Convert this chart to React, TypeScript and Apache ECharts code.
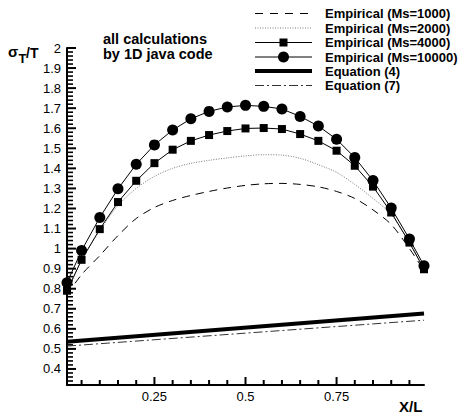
import React, { useEffect, useRef } from "react";
import * as echarts from "echarts";

// ---- data ----
const xPositions = [0.01, 0.05, 0.1, 0.15, 0.2, 0.25, 0.3, 0.35, 0.4, 0.45, 0.5, 0.55, 0.6, 0.65, 0.7, 0.75, 0.8, 0.85, 0.9, 0.95, 0.99];
const empMs1000 = [0.77, 0.87, 0.965, 1.065, 1.15, 1.205, 1.24, 1.265, 1.285, 1.302, 1.315, 1.323, 1.325, 1.32, 1.308, 1.285, 1.25, 1.193, 1.12, 1.0, 0.89];
const empMs2000 = [0.78, 0.94, 1.09, 1.215, 1.3, 1.36, 1.4, 1.425, 1.44, 1.452, 1.462, 1.468, 1.466, 1.45, 1.418, 1.38, 1.32, 1.25, 1.17, 1.03, 0.9];
const empMs4000 = [0.79, 0.944, 1.097, 1.232, 1.338, 1.426, 1.493, 1.537, 1.566, 1.586, 1.599, 1.601, 1.596, 1.571, 1.537, 1.488, 1.413, 1.309, 1.18, 1.03, 0.897];
const empMs10000 = [0.83, 0.99, 1.155, 1.298, 1.42, 1.517, 1.591, 1.647, 1.684, 1.706, 1.714, 1.709, 1.696, 1.659, 1.611, 1.545, 1.454, 1.339, 1.202, 1.048, 0.915];
const eqX = [0.01, 0.99];
const eq4 = [0.536, 0.677];
const eq7 = [0.514, 0.643];

const seriesNames = [
  "Empirical (Ms=1000)",
  "Empirical (Ms=2000)",
  "Empirical (Ms=4000)",
  "Empirical (Ms=10000)",
  "Equation (4)",
  "Equation (7)",
];

const xMajorTicks = [0.25, 0.5, 0.75];
const yMajorTicks = [0.4, 0.5, 0.6, 0.7, 0.8, 0.9, 1, 1.1, 1.2, 1.3, 1.4, 1.5, 1.6, 1.7, 1.8, 1.9, 2];
const xMin = 0.01;
const xMax = 0.99;
const yMin = 0.32;
const yMax = 2;

const FONT = '"Liberation Sans", Arial, Helvetica, sans-serif';
const TICK_COLOR = "#000";

function pairs(xs: number[], ys: number[]) {
  return xs.map((x, i) => [x, ys[i]]);
}

export default function App() {
  const ref = useRef<HTMLDivElement>(null);

  useEffect(() => {
    if (!ref.current) return;
    const chart = echarts.init(ref.current, undefined, { renderer: "svg" });

    const xTickVals: number[] = [];
    const xTickLen: number[] = [];
    for (let i = 1; i < 20; i++) {
      const v = Math.round(i * 5) / 100;
      xTickVals.push(v);
      xTickLen.push(xMajorTicks.some((m) => Math.abs(m - v) < 1e-9) ? 8 : 5);
    }
    const yTickVals: number[] = [];
    const yTickLen: number[] = [];
    for (let i = 17; i <= 100; i++) {
      const v = Math.round(i * 2) / 100;
      yTickVals.push(v);
      yTickLen.push(yMajorTicks.some((m) => Math.abs(m - v) < 1e-9) ? 9 : 6);
    }

    const black = "#000";
    const axisLabel = { color: black, fontSize: 13, fontFamily: FONT };

    const legendY = [13.5, 28, 42.5, 57, 71, 85.5];
    const lx1 = 255, lx2 = 312, lmid = 283.5, tx = 325;
    const legendStyles: any[] = [
      { stroke: black, lineWidth: 1, lineDash: [8, 7] },
      { stroke: "#777", lineWidth: 1, lineDash: [1, 1.5] },
      { stroke: black, lineWidth: 1 },
      { stroke: black, lineWidth: 1 },
      { stroke: black, lineWidth: 4 },
      { stroke: "#333", lineWidth: 1, lineDash: [9, 3, 2, 3] },
    ];
    const txt = (text: string, x: number, y: number, font: string) => ({
      type: "text", x, y, z: 11,
      style: { text, fill: black, font, textAlign: "left", textVerticalAlign: "middle", align: "left", verticalAlign: "middle" },
    });
    const graphics: any[] = [];
    seriesNames.forEach((name, i) => {
      const y = legendY[i];
      graphics.push({ type: "line", shape: { x1: lx1, y1: y, x2: lx2, y2: y }, style: legendStyles[i], z: 10 });
      if (i === 2) graphics.push({ type: "rect", shape: { x: lmid - 4, y: y - 4, width: 8, height: 8 }, style: { fill: black }, z: 11 });
      if (i === 3) graphics.push({ type: "circle", shape: { cx: lmid, cy: y, r: 5.5 }, style: { fill: black }, z: 11 });
      graphics.push(txt(name, tx, y, `bold 13px ${FONT}`));
    });
    graphics.push(txt("all calculations", 103, 39, `bold 14.5px ${FONT}`));
    graphics.push(txt("by 1D java code", 103, 53.5, `bold 14.5px ${FONT}`));
    graphics.push(txt("σ", 8, 51, `bold 15px ${FONT}`));
    graphics.push(txt("T", 18.5, 58, `bold 13px ${FONT}`));
    graphics.push(txt("/T", 26, 53, `bold 14px ${FONT}`));
    graphics.push(txt("X/L", 399, 406.5, `bold 15px ${FONT}`));

    const option: any = {
      animation: false,
      backgroundColor: "#fff",
      grid: { left: 67, right: 35, top: 48, bottom: 32 },
      xAxis: {
        type: "value", min: xMin, max: xMax,
        axisLine: { show: true, onZero: false, lineStyle: { color: black, width: 2 } },
        axisTick: { show: false },
        axisLabel: { ...axisLabel, margin: 5, customValues: xMajorTicks },
        splitLine: { show: false },
      },
      yAxis: {
        type: "value", min: yMin, max: yMax,
        axisLine: { show: true, onZero: false, lineStyle: { color: black, width: 2 } },
        axisTick: { show: false },
        axisLabel: { ...axisLabel, margin: 6, customValues: yMajorTicks },
        splitLine: { show: false },
      },
      series: [
        {
          type: "custom", data: xTickVals.map((v) => [v, 1]), clip: false,
          renderItem: (params: any, api: any) => {
            const i = params.dataIndex;
            const p = api.coord([xTickVals[i], yMin]);
            const len = xTickLen[i];
            return { type: "line", shape: { x1: p[0], y1: p[1], x2: p[0], y2: p[1] - len }, style: { stroke: TICK_COLOR, lineWidth: 2 } };
          },
        },
        {
          type: "custom", data: yTickVals.map((v) => [0.5, v]), clip: false,
          renderItem: (params: any, api: any) => {
            const i = params.dataIndex;
            const p = api.coord([xMin, yTickVals[i]]);
            const len = yTickLen[i];
            return { type: "line", shape: { x1: p[0], y1: p[1], x2: p[0] + len, y2: p[1] }, style: { stroke: TICK_COLOR, lineWidth: len > 7 ? 2 : 1.6 } };
          },
        },
        {
          name: seriesNames[0], type: "line", data: pairs(xPositions, empMs1000),
          smooth: 0.3, symbol: "none", lineStyle: { color: black, width: 1, type: [8, 6] }, clip: false,
        },
        {
          name: seriesNames[1], type: "line", data: pairs(xPositions, empMs2000),
          smooth: 0.3, symbol: "none", lineStyle: { color: "#777", width: 1, type: [1, 1.5] }, clip: false,
        },
        {
          name: seriesNames[2], type: "line", data: pairs(xPositions, empMs4000),
          symbol: "rect", symbolSize: 8, itemStyle: { color: black }, lineStyle: { color: black, width: 1 }, clip: false,
        },
        {
          name: seriesNames[3], type: "line", data: pairs(xPositions, empMs10000),
          symbol: "circle", symbolSize: 11, itemStyle: { color: black }, lineStyle: { color: black, width: 1 }, clip: false,
        },
        {
          name: seriesNames[4], type: "line", data: pairs(eqX, eq4),
          symbol: "none", lineStyle: { color: black, width: 4 }, clip: false,
        },
        {
          name: seriesNames[5], type: "line", data: pairs(eqX, eq7),
          symbol: "none", lineStyle: { color: "#333", width: 1, type: [9, 3, 2, 3] }, clip: false,
        },
      ],
      graphic: graphics,
    };

    chart.setOption(option);
    return () => chart.dispose();
  }, []);

  return (
    <div
      ref={ref}
      style={{ position: "fixed", left: 0, top: 0, width: 459, height: 417, background: "#fff" }}
    />
  );
}
